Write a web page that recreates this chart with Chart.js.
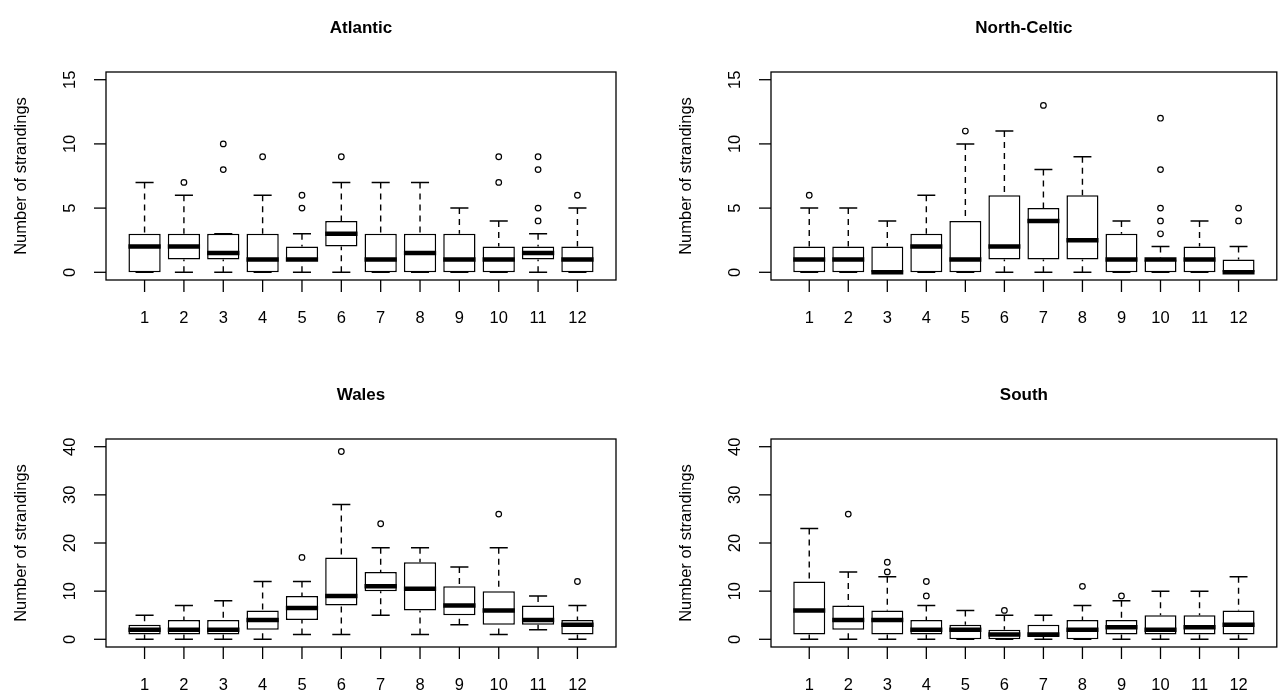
<!DOCTYPE html>
<html>
<head>
<meta charset="utf-8">
<script src="https://cdn.jsdelivr.net/npm/chart.js@4.4.1/dist/chart.umd.min.js"></script>
<style>
  html, body { margin: 0; padding: 0; background: #ffffff; }
  #wrap { position: relative; width: 1282px; height: 696px; overflow: hidden; }
  #wrap canvas { position: absolute; left: 0; top: 0; }
</style>
</head>
<body>
<div id="wrap">
  <canvas id="c1" width="1282" height="696"></canvas>
  <canvas id="c2" width="1282" height="696"></canvas>
  <canvas id="c3" width="1282" height="696"></canvas>
  <canvas id="c4" width="1282" height="696"></canvas>
</div>
<script>
// ---------- DATA ----------
const months = [1, 2, 3, 4, 5, 6, 7, 8, 9, 10, 11, 12];
const monthLabels = ['1','2','3','4','5','6','7','8','9','10','11','12'];
const yTicksSmall = [0, 5, 10, 15];
const yTicksLarge = [0, 10, 20, 30, 40];
const yAxisTitle = 'Number of strandings';

// Atlantic
const atlanticLow    = [0, 0, 0, 0, 0, 0, 0, 0, 0, 0, 0, 0];
const atlanticQ1     = [0, 1, 1, 0, 1, 2, 0, 0, 0, 0, 1, 0];
const atlanticMedian = [2, 2, 1.5, 1, 1, 3, 1, 1.5, 1, 1, 1.5, 1];
const atlanticQ3     = [3, 3, 3, 3, 2, 4, 3, 3, 3, 2, 2, 2];
const atlanticHigh   = [7, 6, 3, 6, 3, 7, 7, 7, 5, 4, 3, 5];
const atlanticOutliers = [[2, 7], [3, 8], [3, 10], [4, 9], [5, 5], [5, 6], [6, 9], [10, 7], [10, 9], [11, 4], [11, 5], [11, 8], [11, 9], [12, 6]];

// North-Celtic
const northLow    = [0, 0, 0, 0, 0, 0, 0, 0, 0, 0, 0, 0];
const northQ1     = [0, 0, 0, 0, 0, 1, 1, 1, 0, 0, 0, 0];
const northMedian = [1, 1, 0, 2, 1, 2, 4, 2.5, 1, 1, 1, 0];
const northQ3     = [2, 2, 2, 3, 4, 6, 5, 6, 3, 1, 2, 1];
const northHigh   = [5, 5, 4, 6, 10, 11, 8, 9, 4, 2, 4, 2];
const northOutliers = [[1, 6], [5, 11], [7, 13], [10, 3], [10, 4], [10, 5], [10, 8], [10, 12], [12, 4], [12, 5]];

// Wales
const walesLow    = [0, 0, 0, 0, 1, 1, 5, 1, 3, 1, 2, 0];
const walesQ1     = [1, 1, 1, 2, 4, 7, 10, 6, 5, 3, 3, 1];
const walesMedian = [2, 2, 2, 4, 6.5, 9, 11, 10.5, 7, 6, 4, 3];
const walesQ3     = [3, 4, 4, 6, 9, 17, 14, 16, 11, 10, 7, 4];
const walesHigh   = [5, 7, 8, 12, 12, 28, 19, 19, 15, 19, 9, 7];
const walesOutliers = [[5, 17], [6, 39], [7, 24], [10, 26], [12, 12]];

// South
const southLow    = [0, 0, 0, 0, 0, 0, 0, 0, 0, 0, 0, 0];
const southQ1     = [1, 2, 1, 1, 0, 0, 0.5, 0, 1, 1, 1, 1];
const southMedian = [6, 4, 4, 2, 2, 1, 1, 2, 2.5, 2, 2.5, 3];
const southQ3     = [12, 7, 6, 4, 3, 2, 3, 4, 4, 5, 5, 6];
const southHigh   = [23, 14, 13, 7, 6, 5, 5, 7, 8, 10, 10, 13];
const southOutliers = [[2, 26], [3, 14], [3, 16], [4, 9], [4, 12], [6, 6], [8, 11], [9, 9]];

// ---------- DRAWING ----------
const FONT = '"Liberation Sans", Arial, Helvetica, sans-serif';
const W = 1282, H = 696;

function makePlugin(p) {
  return {
    id: 'rbox_' + p.id,
    afterDatasetsDraw(chart) {
      const ctx = chart.ctx;
      const ys = chart.scales.y;
      const meta = chart.getDatasetMeta(0);
      ctx.save();
      ctx.strokeStyle = '#000';
      meta.data.forEach((bar, i) => {
        const x = bar.x, w = bar.width;
        const yQ1 = ys.getPixelForValue(p.q1[i]);
        const yQ3 = ys.getPixelForValue(p.q3[i]);
        const yLo = ys.getPixelForValue(p.low[i]);
        const yHi = ys.getPixelForValue(p.high[i]);
        const yMed = ys.getPixelForValue(p.median[i]);
        // whiskers (dashed), drawn from whisker end toward box
        ctx.lineWidth = 1.4;
        ctx.setLineDash([6, 5]);
        ctx.beginPath();
        ctx.moveTo(x, yHi); ctx.lineTo(x, yQ3);
        ctx.moveTo(x, yLo); ctx.lineTo(x, yQ1);
        ctx.stroke();
        ctx.setLineDash([]);
        // staples
        const cw = w * 0.28;
        ctx.lineWidth = 1.5;
        ctx.beginPath();
        ctx.moveTo(x - cw, yHi); ctx.lineTo(x + cw, yHi);
        ctx.moveTo(x - cw, yLo); ctx.lineTo(x + cw, yLo);
        ctx.stroke();
        // median
        ctx.lineWidth = 4.5;
        ctx.lineCap = 'butt';
        ctx.beginPath();
        ctx.moveTo(x - w / 2, yMed); ctx.lineTo(x + w / 2, yMed);
        ctx.stroke();
      });
      ctx.restore();
    },
    afterDraw(chart) {
      const ctx = chart.ctx;
      const a = chart.chartArea;
      const xs = chart.scales.x, ys = chart.scales.y;
      ctx.save();
      ctx.strokeStyle = '#000';
      ctx.fillStyle = '#000';
      // frame
      ctx.lineWidth = 1.3;
      ctx.strokeRect(a.left, a.top, a.right - a.left, a.bottom - a.top);
      // x ticks + labels
      ctx.lineWidth = 1.3;
      ctx.font = '16.5px ' + FONT;
      ctx.textAlign = 'center';
      ctx.textBaseline = 'middle';
      months.forEach((m, i) => {
        const x = xs.getPixelForValue(m);
        ctx.beginPath();
        ctx.moveTo(x, a.bottom); ctx.lineTo(x, a.bottom + 12);
        ctx.stroke();
        ctx.fillText(monthLabels[i], x, a.bottom + 38);
      });
      // y ticks + rotated labels
      p.yTicks.forEach(t => {
        const y = ys.getPixelForValue(t);
        ctx.beginPath();
        ctx.moveTo(a.left - 12, y); ctx.lineTo(a.left, y);
        ctx.stroke();
        ctx.save();
        ctx.translate(a.left - 36, y);
        ctx.rotate(-Math.PI / 2);
        ctx.fillText(String(t), 0, 0);
        ctx.restore();
      });
      // axis title
      ctx.save();
      ctx.translate(a.left - 85, (a.top + a.bottom) / 2);
      ctx.rotate(-Math.PI / 2);
      ctx.fillText(yAxisTitle, 0, 0);
      ctx.restore();
      // main title
      ctx.font = 'bold 17px ' + FONT;
      ctx.textBaseline = 'alphabetic';
      ctx.fillText(p.title, (a.left + a.right) / 2, a.top - 39);
      ctx.restore();
    }
  };
}

function makePanel(p) {
  const boxData = months.map((m, i) => ({ x: m, y: [p.q1[i], p.q3[i]] }));
  const outData = p.outliers.map(o => ({ x: o[0], y: o[1] }));
  const yPad = (p.yMax - 0) * 0.04;
  return new Chart(document.getElementById(p.canvas), {
    type: 'bar',
    data: {
      datasets: [
        {
          type: 'bar',
          data: boxData,
          backgroundColor: '#ffffff',
          borderColor: '#000000',
          borderWidth: 1.5,
          borderSkipped: false,
          barPercentage: 0.82,
          categoryPercentage: 1.0,
          order: 2
        },
        {
          type: 'scatter',
          data: outData,
          pointStyle: 'circle',
          pointRadius: 2.8,
          pointBorderWidth: 1.2,
          pointBorderColor: '#000000',
          pointBackgroundColor: 'rgba(255,255,255,0)',
          order: 1
        }
      ]
    },
    options: {
      responsive: false,
      animation: false,
      devicePixelRatio: 1,
      events: [],
      layout: { padding: { left: p.area[0], top: p.area[1], right: W - p.area[2], bottom: H - p.area[3] } },
      plugins: { legend: { display: false }, tooltip: { enabled: false }, title: { display: false } },
      scales: {
        x: { type: 'linear', display: false, offset: false, min: 0.02, max: 12.98 },
        y: { type: 'linear', display: false, min: -yPad, max: p.yMax + yPad, beginAtZero: false }
      }
    },
    plugins: [makePlugin(p)]
  });
}

makePanel({ id: 'a', canvas: 'c1', title: 'Atlantic', area: [106, 72, 616, 280], yMax: 15, yTicks: yTicksSmall,
  low: atlanticLow, q1: atlanticQ1, median: atlanticMedian, q3: atlanticQ3, high: atlanticHigh, outliers: atlanticOutliers });
makePanel({ id: 'n', canvas: 'c2', title: 'North-Celtic', area: [771, 72, 1280, 280], yMax: 15, yTicks: yTicksSmall,
  low: northLow, q1: northQ1, median: northMedian, q3: northQ3, high: northHigh, outliers: northOutliers });
makePanel({ id: 'w', canvas: 'c3', title: 'Wales', area: [106, 439, 616, 647], yMax: 40, yTicks: yTicksLarge,
  low: walesLow, q1: walesQ1, median: walesMedian, q3: walesQ3, high: walesHigh, outliers: walesOutliers });
makePanel({ id: 's', canvas: 'c4', title: 'South', area: [771, 439, 1280, 647], yMax: 40, yTicks: yTicksLarge,
  low: southLow, q1: southQ1, median: southMedian, q3: southQ3, high: southHigh, outliers: southOutliers });
</script>
</body>
</html>
